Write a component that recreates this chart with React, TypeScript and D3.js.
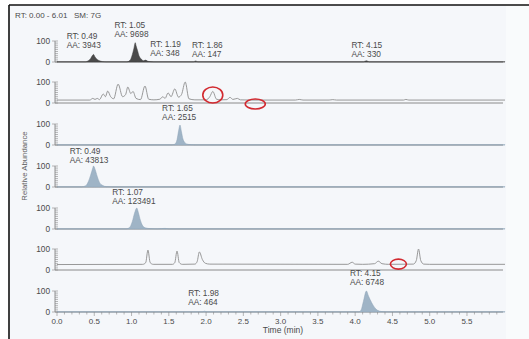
import React from "react";
import * as d3 from "d3";

// chromatogram traces: [retention time (min), relative abundance %]
const trace1: [number, number][] = [
  [0, 1], [0.38, 1], [0.42, 6], [0.45, 16], [0.47, 28], [0.49, 36], [0.51, 24], [0.54, 12],
  [0.57, 6], [0.61, 2], [0.66, 1], [0.94, 1], [0.98, 8], [1.01, 35], [1.03, 62], [1.05, 92],
  [1.06, 78], [1.08, 55], [1.1, 30], [1.13, 14], [1.16, 6], [1.19, 9], [1.22, 3], [1.3, 1],
  [1.83, 1], [1.86, 5], [1.89, 1], [4.11, 1], [4.15, 6], [4.19, 1], [6.01, 1],
];
const trace2: [number, number][] = [
  [0, 14], [0.44, 14], [0.48, 22], [0.51, 17], [0.54, 22], [0.57, 16], [0.62, 43], [0.65, 30],
  [0.68, 57], [0.72, 30], [0.76, 20], [0.82, 90], [0.88, 30], [0.92, 40], [0.95, 76], [0.99, 45],
  [1.02, 55], [1.06, 22], [1.12, 16], [1.18, 81], [1.23, 18], [1.3, 15], [1.38, 18], [1.42, 30],
  [1.45, 22], [1.49, 48], [1.53, 30], [1.58, 67], [1.63, 28], [1.67, 40], [1.72, 100], [1.77, 20],
  [1.85, 15], [2.0, 15], [2.05, 30], [2.09, 55], [2.14, 18], [2.2, 15], [2.28, 16], [2.32, 27],
  [2.36, 17], [2.42, 22], [2.46, 15], [2.6, 14], [3.2, 14], [3.25, 17], [3.3, 14], [3.65, 14],
  [3.7, 16], [3.75, 14], [4.65, 14], [4.68, 17], [4.72, 14], [6.01, 14],
];
const trace3: [number, number][] = [
  [0, 1], [1.54, 1], [1.58, 4], [1.61, 25], [1.63, 65], [1.65, 95], [1.67, 62], [1.69, 28],
  [1.72, 10], [1.76, 3], [1.85, 1], [6.01, 1],
];
const trace4: [number, number][] = [
  [0, 1], [0.33, 1], [0.38, 5], [0.42, 25], [0.45, 55], [0.48, 90], [0.49, 100], [0.51, 85],
  [0.54, 50], [0.57, 22], [0.61, 8], [0.66, 2], [0.75, 1], [6.01, 1],
];
const trace5: [number, number][] = [
  [0, 1], [0.93, 1], [0.97, 6], [1.01, 35], [1.04, 75], [1.07, 100], [1.09, 80], [1.12, 40],
  [1.15, 15], [1.19, 5], [1.25, 2], [1.35, 1], [1.45, 3], [1.5, 1], [6.01, 1],
];
const trace6: [number, number][] = [
  [0, 26], [1.15, 27], [1.19, 35], [1.22, 95], [1.25, 35], [1.29, 27], [1.55, 27], [1.58, 35],
  [1.61, 90], [1.64, 35], [1.68, 27], [1.85, 28], [1.88, 40], [1.91, 86], [1.95, 50], [1.99, 32],
  [2.05, 28], [3.9, 27], [3.96, 37], [4.0, 28], [4.1, 27], [4.26, 30], [4.31, 42], [4.36, 30],
  [4.45, 27], [4.78, 28], [4.82, 45], [4.85, 100], [4.88, 45], [4.92, 28], [5.0, 27], [6.01, 27],
];
const trace7: [number, number][] = [
  [0, 1], [1.95, 1], [1.98, 4], [2.01, 1], [4.05, 1], [4.08, 10], [4.11, 50], [4.15, 100],
  [4.18, 75], [4.22, 45], [4.26, 22], [4.3, 8], [4.36, 2], [4.45, 1], [6.01, 1],
];

const traces = [trace1, trace2, trace3, trace4, trace5, trace6, trace7];
const traceStyle = ["darkfill", "line", "fill", "fill", "fill", "line", "fill"];

// peak labels: panel, rt (min) and abundance (%) where the label sits
const peakLabels = [
  { panel: 0, rt: 0.13, ab: 124, lines: ["RT: 0.49", "AA: 3943"] },
  { panel: 0, rt: 0.77, ab: 176, lines: ["RT: 1.05", "AA: 9698"] },
  { panel: 0, rt: 1.25, ab: 86, lines: ["RT: 1.19", "AA: 348"] },
  { panel: 0, rt: 1.81, ab: 81, lines: ["RT: 1.86", "AA: 147"] },
  { panel: 0, rt: 3.95, ab: 81, lines: ["RT: 4.15", "AA: 330"] },
  { panel: 2, rt: 1.41, ab: 176, lines: ["RT: 1.65", "AA: 2515"] },
  { panel: 3, rt: 0.17, ab: 171, lines: ["RT: 0.49", "AA: 43813"] },
  { panel: 4, rt: 0.74, ab: 176, lines: ["RT: 1.07", "AA: 123491"] },
  { panel: 6, rt: 3.93, ab: 186, lines: ["RT: 4.15", "AA: 6748"] },
  { panel: 6, rt: 1.76, ab: 90, lines: ["RT: 1.98", "AA: 464"] },
];

// red circles drawn on the figure
const marks = [
  { panel: 1, rt: 2.09, ab: 38, rx: 10, ry: 8 },
  { panel: 1, rt: 2.66, ab: -5, rx: 10, ry: 5 },
  { panel: 5, rt: 4.58, ab: 28, rx: 8, ry: 5 },
];

const xTicks = [0, 0.5, 1, 1.5, 2, 2.5, 3, 3.5, 4, 4.5, 5, 5.5];
const minorX = d3.range(0, 60).map((i) => i / 10);
const minorY = d3.range(0, 101, 10);

const W = 529;
const H = 339;
const baselines = [62, 103, 145, 187, 229, 270, 312];
const panelH = 21;
const font = "'Liberation Sans', Arial, sans-serif";
const ink = "#4a4a4a";

export default function App() {
  const x = d3.scaleLinear().domain([0, 6.01]).range([57, 505]);
  const yFor = (i: number) =>
    d3.scaleLinear().domain([0, 100]).range([baselines[i], baselines[i] - panelH]);

  return (
    <svg
      width={W}
      height={H}
      style={{ position: "absolute", left: 0, top: 0, display: "block" }}
      fontFamily={font}
    >
      <rect width={W} height={H} fill="#ffffff" />
      <rect x={9} y={5} width={W - 9} height={H - 5} fill="#f5f7fa" />
      <rect x={506} y={5} width={W - 506} height={H - 5} fill="#f9fbfc" />
      <line x1={9} y1={5} x2={W} y2={5} stroke="#111" strokeWidth={1.6} />
      <line x1={9} y1={5} x2={9} y2={H} stroke="#111" strokeWidth={1.6} />

      <text x={15} y={18} fontSize={8} fill={ink}>
        RT: 0.00 - 6.01{"\u00a0\u00a0\u00a0"}SM: 7G
      </text>

      <text
        transform="translate(27,166) rotate(-90)"
        textAnchor="middle"
        fontSize={7.8}
        fill="#606060"
      >
        Relative Abundance
      </text>

      {traces.map((t, i) => {
        const y = yFor(i);
        const b = baselines[i];
        const st = traceStyle[i];
        const line = d3
          .line<[number, number]>()
          .x((d) => x(d[0]))
          .y((d) => y(d[1]))
          .curve(d3.curveMonotoneX);
        const area = d3
          .area<[number, number]>()
          .x((d) => x(d[0]))
          .y0(b)
          .y1((d) => y(d[1]))
          .curve(d3.curveMonotoneX);
        return (
          <g key={i}>
            {/* y axis */}
            <line x1={55} y1={b - panelH} x2={55} y2={b} stroke="#777" strokeWidth={0.8} />
            {minorY.map((v) => (
              <line
                key={v}
                x1={v === 0 || v === 100 ? 52 : 55}
                x2={58}
                y1={y(v)}
                y2={y(v)}
                stroke="#888"
                strokeWidth={0.6}
              />
            ))}
            <text x={50} y={y(100) + 3} textAnchor="end" fontSize={8.3} fill={ink}>
              100
            </text>
            <text x={50} y={b + 3} textAnchor="end" fontSize={8.3} fill={ink}>
              0
            </text>
            {/* baseline axis */}
            <line x1={55} y1={b} x2={503} y2={b} stroke="#8a8a8a" strokeWidth={1} />
            {st === "line" ? (
              <path d={line(t) ?? ""} fill="none" stroke="#8d8d8d" strokeWidth={0.9} />
            ) : (
              <path
                d={area(t) ?? ""}
                fill={st === "darkfill" ? "#4a4a4a" : "#9fb4c6"}
                stroke={st === "darkfill" ? "#3a3a3a" : "#8aa1b5"}
                strokeWidth={0.5}
              />
            )}
          </g>
        );
      })}

      {/* bottom time axis */}
      {minorX.map((v) => (
        <line
          key={v}
          x1={x(v)}
          x2={x(v)}
          y1={312}
          y2={Math.abs((v * 2) % 1) < 1e-6 ? 316 : 314.5}
          stroke="#888"
          strokeWidth={0.6}
        />
      ))}
      {xTicks.map((v) => (
        <text key={v} x={x(v)} y={324} textAnchor="middle" fontSize={8} fill={ink}>
          {v.toFixed(1)}
        </text>
      ))}
      <text x={283} y={333} textAnchor="middle" fontSize={8.5} fill={ink}>
        Time (min)
      </text>

      {peakLabels.map((l, k) => {
        const y = yFor(l.panel);
        return (
          <text key={k} x={x(l.rt)} y={y(l.ab) + 3} fontSize={8.3} fill={ink}>
            {l.lines.map((s, j) => (
              <tspan key={j} x={x(l.rt)} dy={j === 0 ? 0 : 9}>
                {s}
              </tspan>
            ))}
          </text>
        );
      })}

      {marks.map((m, k) => (
        <ellipse
          key={k}
          cx={x(m.rt)}
          cy={yFor(m.panel)(m.ab)}
          rx={m.rx}
          ry={m.ry}
          fill="none"
          stroke="#d22a30"
          strokeWidth={1.6}
        />
      ))}
    </svg>
  );
}
